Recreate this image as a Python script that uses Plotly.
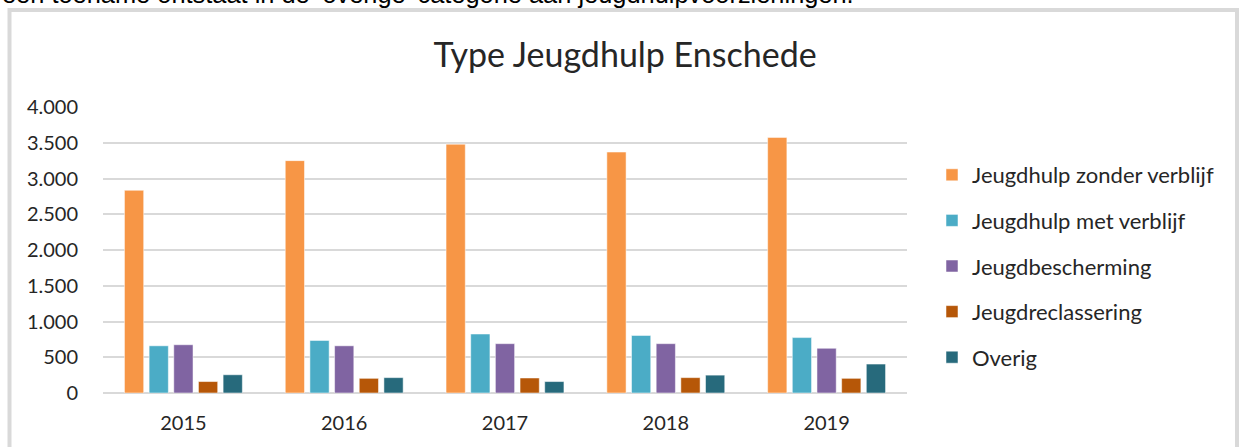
import plotly.graph_objects as go

years = ["2015", "2016", "2017", "2018", "2019"]
series_names = [
    "Jeugdhulp zonder verblijf",
    "Jeugdhulp met verblijf",
    "Jeugdbescherming",
    "Jeugdreclassering",
    "Overig",
]
zonder_verblijf = [2835, 3250, 3480, 3370, 3575]
met_verblijf = [660, 735, 825, 805, 775]
jeugdbescherming = [675, 660, 690, 690, 625]
jeugdreclassering = [160, 205, 210, 215, 205]
overig = [255, 215, 160, 250, 405]
colors = ["#F79646", "#4BACC6", "#8064A2", "#B65708", "#276A7C"]

values = [zonder_verblijf, met_verblijf, jeugdbescherming, jeugdreclassering, overig]

W, H = 1241, 447
L, R, T, B = 103, 907, 107, 393


def px(x):
    return (x - L) / (R - L)


def py(y):
    return (B - y) / (B - T)


fig = go.Figure()
for name, vals, col in zip(series_names, values, colors):
    fig.add_trace(go.Bar(
        x=years, y=vals, name=name, legendgroup=name,
        marker=dict(color=col, line=dict(color="rgba(255,255,255,0.5)", width=1)),
    ))

font_main = "Lato, 'Open Sans', sans-serif"

fig.update_layout(
    width=W, height=H,
    margin=dict(l=L, r=W - R, t=T, b=H - B, pad=0, autoexpand=False),
    paper_bgcolor="white", plot_bgcolor="white",
    separators=",.",
    barmode="group", bargap=0.233, bargroupgap=0.22,
    font=dict(family=font_main, size=20, color="#262626"),
    title=dict(text="Type Jeugdhulp Enschede", x=625 / W, xref="container", xanchor="center",
               y=1 - 55 / H, yref="container", yanchor="middle",
               font=dict(family=font_main, size=34, color="#262626")),
    showlegend=True,
    legend=dict(x=px(932), y=py(154), xanchor="left", yanchor="top",
                font=dict(family=font_main, size=22, color="#262626"),
                traceorder="grouped", tracegroupgap=14, bgcolor="rgba(0,0,0,0)"),
    xaxis=dict(showgrid=False, showline=False, ticks="outside", ticklen=12,
               tickcolor="rgba(0,0,0,0)", tickfont=dict(size=20)),
    yaxis=dict(range=[0, 4000], dtick=500, tickformat=",d", showgrid=True,
               gridcolor="#D9D9D9", gridwidth=2, zeroline=True, zerolinecolor="#D9D9D9",
               zerolinewidth=2, ticks="outside", ticklen=20, tickcolor="rgba(0,0,0,0)",
               tickfont=dict(size=20), showline=False),
    shapes=[dict(type="rect", xref="paper", yref="paper",
                 x0=px(9.5), x1=px(1237), y0=py(470), y1=py(10),
                 line=dict(color="#D9D9D9", width=4), fillcolor="rgba(0,0,0,0)", layer="below")],
    annotations=[dict(text="een toename ontstaat in de \u2018overige\u2019 categorie aan jeugdhulpvoorzieningen.",
                      xref="paper", yref="paper", x=px(0), y=py(-6), xanchor="left", yanchor="middle",
                      showarrow=False, font=dict(family="'Liberation Sans', Arial, sans-serif", size=25.4, color="#000000"))],
)

fig.write_html("out.html", config={"displayModeBar": False},
               post_script="document.body.style.margin='0px';")
